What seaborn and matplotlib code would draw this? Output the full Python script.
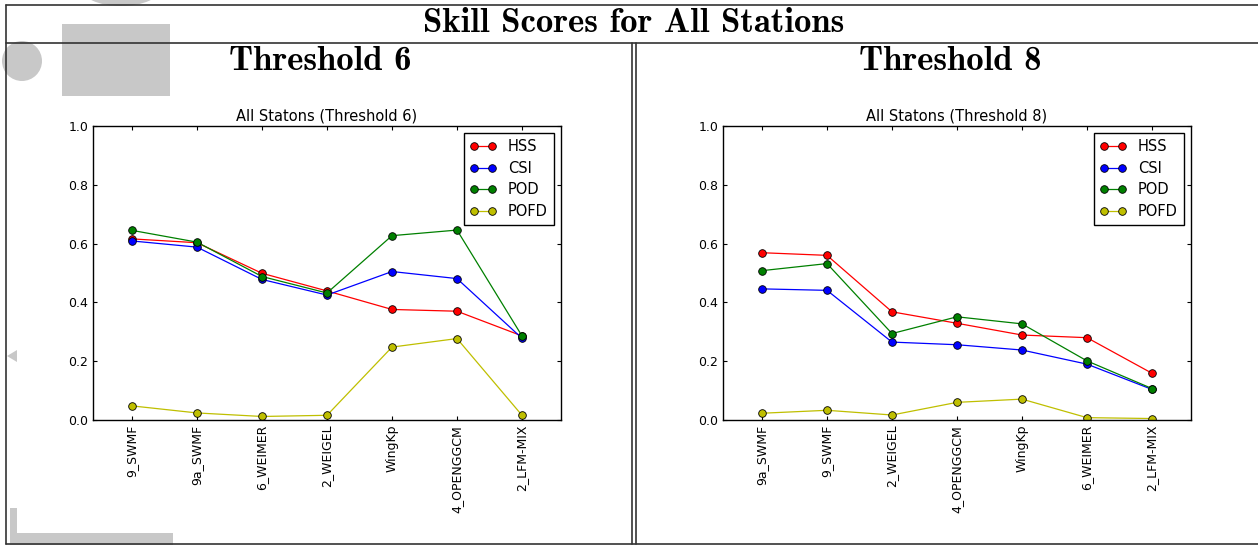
import numpy as np
import pandas as pd
import matplotlib
matplotlib.use("Agg")
import matplotlib.pyplot as plt
from matplotlib.lines import Line2D
from matplotlib.patches import Rectangle, Ellipse, Polygon
import seaborn as sns

# ── Data ──────────────────────────────────────────────────────────────────────

METRICS = ["HSS", "CSI", "POD", "POFD"]
COLORS = {"HSS": "#ff0000", "CSI": "#0000ff", "POD": "#008000", "POFD": "#bfbf00"}

MODELS_T6 = ["9_SWMF", "9a_SWMF", "6_WEIMER", "2_WEIGEL", "WingKp", "4_OPENGGCM", "2_LFM-MIX"]
HSS_T6 = [0.616, 0.603, 0.499, 0.439, 0.376, 0.370, 0.286]
CSI_T6 = [0.609, 0.588, 0.478, 0.425, 0.505, 0.481, 0.278]
POD_T6 = [0.645, 0.605, 0.488, 0.432, 0.627, 0.646, 0.286]
POFD_T6 = [0.048, 0.024, 0.012, 0.016, 0.248, 0.277, 0.016]

MODELS_T8 = ["9a_SWMF", "9_SWMF", "2_WEIGEL", "4_OPENGGCM", "WingKp", "6_WEIMER", "2_LFM-MIX"]
HSS_T8 = [0.569, 0.560, 0.368, 0.329, 0.289, 0.280, 0.159]
CSI_T8 = [0.446, 0.441, 0.265, 0.256, 0.238, 0.190, 0.104]
POD_T8 = [0.508, 0.532, 0.294, 0.351, 0.327, 0.201, 0.107]
POFD_T8 = [0.023, 0.033, 0.017, 0.060, 0.071, 0.008, 0.005]

PANELS = [
    ("Threshold 6", "All Statons (Threshold 6)", MODELS_T6,
     {"HSS": HSS_T6, "CSI": CSI_T6, "POD": POD_T6, "POFD": POFD_T6}),
    ("Threshold 8", "All Statons (Threshold 8)", MODELS_T8,
     {"HSS": HSS_T8, "CSI": CSI_T8, "POD": POD_T8, "POFD": POFD_T8}),
]

# ── Style ─────────────────────────────────────────────────────────────────────

sns.set_style("ticks")
plt.rcParams.update({
    "font.family": ["DejaVu Sans"],
    "text.color": "black",
    "axes.titlecolor": "black",
    "axes.edgecolor": "black",
    "axes.linewidth": 1.0,
    "xtick.direction": "in",
    "ytick.direction": "in",
    "xtick.top": True,
    "ytick.right": True,
    "xtick.major.size": 3,
    "ytick.major.size": 3,
    "xtick.color": "black",
    "ytick.color": "black",
    "xtick.labelsize": 9,
    "ytick.labelsize": 9,
})

W, H = 1258, 546
fig = plt.figure(figsize=(W / 100, H / 100), dpi=100)
fig.patch.set_facecolor("white")


def fx(px):
    return px / W


def fy(py):
    return 1 - py / H


# faded watermark shapes behind the frame
GREY = "#c8c8c8"
wm = [
    Ellipse((fx(22), fy(61)), 40 / W, 40 / H, transform=fig.transFigure),
    Rectangle((fx(62), fy(96)), 108 / W, 72 / H, transform=fig.transFigure),
    Ellipse((fx(121), fy(-12)), 80 / W, 36 / H, transform=fig.transFigure),
    Rectangle((fx(10), fy(545)), 163 / W, 12 / H, transform=fig.transFigure),
    Rectangle((fx(10), fy(545)), 7 / W, 37 / H, transform=fig.transFigure),
    Polygon([(fx(7), fy(356)), (fx(17), fy(350)), (fx(17), fy(362))],
            closed=True, transform=fig.transFigure),
]
for p in wm:
    p.set_facecolor(GREY)
    p.set_edgecolor("none")
    p.set_zorder(0)
    fig.add_artist(p)

# frame lines
FRAME = dict(color="#333333", linewidth=1.2, transform=fig.transFigure)
fig.add_artist(Line2D([fx(6), 1], [fy(5), fy(5)], **FRAME))
fig.add_artist(Line2D([fx(6), 1], [fy(43), fy(43)], **FRAME))
fig.add_artist(Line2D([fx(6), 1], [fy(544), fy(544)], **FRAME))
fig.add_artist(Line2D([fx(6.5), fx(6.5)], [fy(5), fy(544)], **FRAME))
fig.add_artist(Line2D([fx(632), fx(632)], [fy(43), fy(544)], **FRAME))
fig.add_artist(Line2D([fx(636), fx(636)], [fy(43), fy(544)], **FRAME))

fig.text(fx(634), fy(23), "Skill Scores for All Stations", family="cmb10",
         fontsize=25, ha="center", va="center", color="black")

AX_POS = [(93, 561), (723, 1191)]
HEAD_X = [320, 950]

for (head, title, models, series), (x0, x1), hx in zip(PANELS, AX_POS, HEAD_X):
    fig.text(fx(hx), fy(61), head, family="cmb10", fontsize=25,
             ha="center", va="center", color="black")
    ax = fig.add_axes([fx(x0), fy(420), (x1 - x0) / W, (420 - 126) / H])

    rows = []
    for m in METRICS:
        for i, v in enumerate(series[m]):
            rows.append({"pos": i, "score": v, "metric": m})
    df = pd.DataFrame(rows)

    sns.lineplot(data=df, x="pos", y="score", hue="metric", hue_order=METRICS,
                 palette=COLORS, marker="o", markersize=5.5,
                 markeredgecolor="black", markeredgewidth=0.6, linewidth=0.9,
                 sort=False, estimator=None, legend=False, ax=ax)

    ax.set_xlim(-0.6, len(models) - 0.4)
    ax.set_ylim(0, 1.0)
    ax.set_yticks(np.arange(0, 1.01, 0.2))
    ax.set_yticklabels([f"{v:.1f}" for v in np.arange(0, 1.01, 0.2)])
    ax.set_xticks(range(len(models)))
    ax.set_xticklabels(models, rotation=90)
    ax.set_xlabel("")
    ax.set_ylabel("")
    ax.set_title(title, fontsize=10.5, pad=4)
    for s in ax.spines.values():
        s.set_visible(True)
        s.set_color("black")

    handles = ax.get_lines()[:len(METRICS)]
    leg = ax.legend(handles, METRICS, loc="upper right", numpoints=2,
                    fontsize=10.5, fancybox=False, framealpha=1,
                    edgecolor="black", handlelength=1.8,
                    borderaxespad=0.5, labelspacing=0.45)
    leg.get_frame().set_linewidth(1.0)
    for t in leg.get_texts():
        t.set_color("black")

fig.savefig("out.png", dpi=100, facecolor="white")
